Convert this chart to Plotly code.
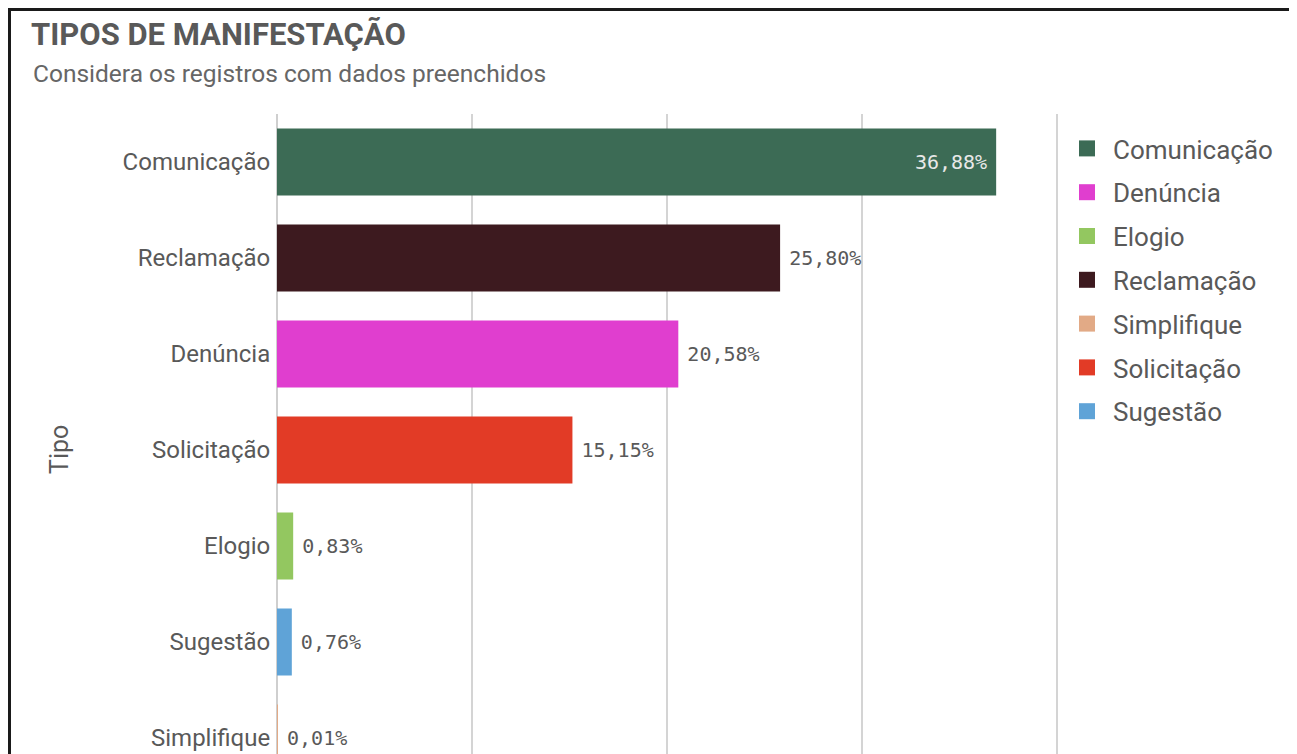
import plotly.graph_objects as go

# ordem das barras (maior para menor)
categories = ["Comunicação", "Reclamação", "Denúncia", "Solicitação", "Elogio", "Sugestão", "Simplifique"]
values = [36.88, 25.80, 20.58, 15.15, 0.83, 0.76, 0.01]
colors = ["#3c6b55", "#3d1a1f", "#e03ecf", "#e23b26", "#93c760", "#5fa3d7", "#e2aa86"]

legend_order = sorted(categories)

# a página tem margem de 8px no body: posições medidas na tela menos 8
OFF = 8
W, H = 1297 - OFF, 754 - OFF
L, T, B = 277 - OFF, 114 - OFF, 0
R = W - (1057 - OFF)
PW, PH = W - L - R, H - T - B
GRAY = "#595959"
FONT = "Roboto"
MONO = "DejaVu Sans Mono"
GAP = "<span style='font-size:10px'>\u00a0</span>"


def px_x(p):
    # p em pixels de tela
    return (p - OFF - L) / PW


def px_y(p):
    return 1 - (p - OFF - T) / PH


def fmt(v):
    return f"{v:.2f}".replace(".", ",") + "%"


color_of = dict(zip(categories, colors))
value_of = dict(zip(categories, values))

fig = go.Figure()

for cat in categories:
    v = value_of[cat]
    inside = v > 30
    fig.add_trace(go.Bar(
        x=[v], y=[cat], orientation="h", width=0.7,
        marker=dict(color=color_of[cat], line=dict(width=0)),
        text=[fmt(v) + GAP if inside else GAP + fmt(v)],
        textposition="inside" if inside else "outside",
        insidetextanchor="end",
        textfont=dict(family=MONO, size=20, color="#e8e8e8" if inside else GRAY),
        constraintext="none", cliponaxis=False,
        showlegend=False, hoverinfo="x+y",
    ))

# entradas da legenda em ordem alfabética
for i, cat in enumerate(legend_order):
    fig.add_trace(go.Scatter(
        x=[None], y=[None], mode="markers", name=cat,
        legendgroup=f"g{i}",
        marker=dict(symbol="square", size=16, color=color_of[cat]),
    ))

fig.update_layout(
    width=W, height=H,
    margin=dict(l=L, r=R, t=T, b=B, pad=0),
    paper_bgcolor="white", plot_bgcolor="white",
    barmode="overlay",
    font=dict(family=FONT, color=GRAY, size=24),
    title=dict(
        text="<b>TIPOS DE MANIFESTAÇÃO</b>",
        x=(31 - OFF) / W, xref="container", xanchor="left",
        y=1 - (34 - OFF) / H, yref="container", yanchor="middle",
        font=dict(family=FONT, size=31, color=GRAY),
    ),
    xaxis=dict(
        range=[0, 40], dtick=10, showticklabels=False,
        showgrid=True, gridcolor="#d4d4d4", gridwidth=2,
        zeroline=True, zerolinecolor="#cfcfcf", zerolinewidth=2,
        showline=False, fixedrange=True,
    ),
    yaxis=dict(
        categoryorder="array", categoryarray=categories,
        range=[-0.5 + PH / 96, -0.5],
        ticks="outside", ticklen=1, tickcolor="rgba(0,0,0,0)",
        tickfont=dict(family=FONT, size=24, color=GRAY),
        showgrid=False, zeroline=False, fixedrange=True,
    ),
    legend=dict(
        x=px_x(1061), xanchor="left", y=px_y(125), yanchor="top",
        traceorder="grouped", tracegroupgap=7, itemwidth=42,
        font=dict(family=FONT, size=26, color=GRAY),
        itemclick=False, itemdoubleclick=False,
    ),
    annotations=[
        dict(text="Considera os registros com dados preenchidos",
             xref="paper", yref="paper", x=px_x(31), y=px_y(73),
             xanchor="left", yanchor="middle", showarrow=False,
             font=dict(family=FONT, size=24.5, color="#666666")),
        dict(text="Tipo", xref="paper", yref="paper", x=px_x(59), y=px_y(450),
             xanchor="center", yanchor="middle", textangle=-90, showarrow=False,
             font=dict(family=FONT, size=25, color=GRAY)),
    ],
    shapes=[
        # separador da legenda
        dict(type="line", xref="paper", yref="paper", x0=1, x1=1, y0=-0.05, y1=1,
             line=dict(color="#d4d4d4", width=2)),
        # moldura
        dict(type="rect", xref="paper", yref="paper",
             x0=px_x(OFF + 1.5), x1=px_x(1294), y0=-0.1, y1=px_y(OFF + 1.5),
             line=dict(color="#1a1a1a", width=3)),
    ],
)

fig.write_html("out.html")
